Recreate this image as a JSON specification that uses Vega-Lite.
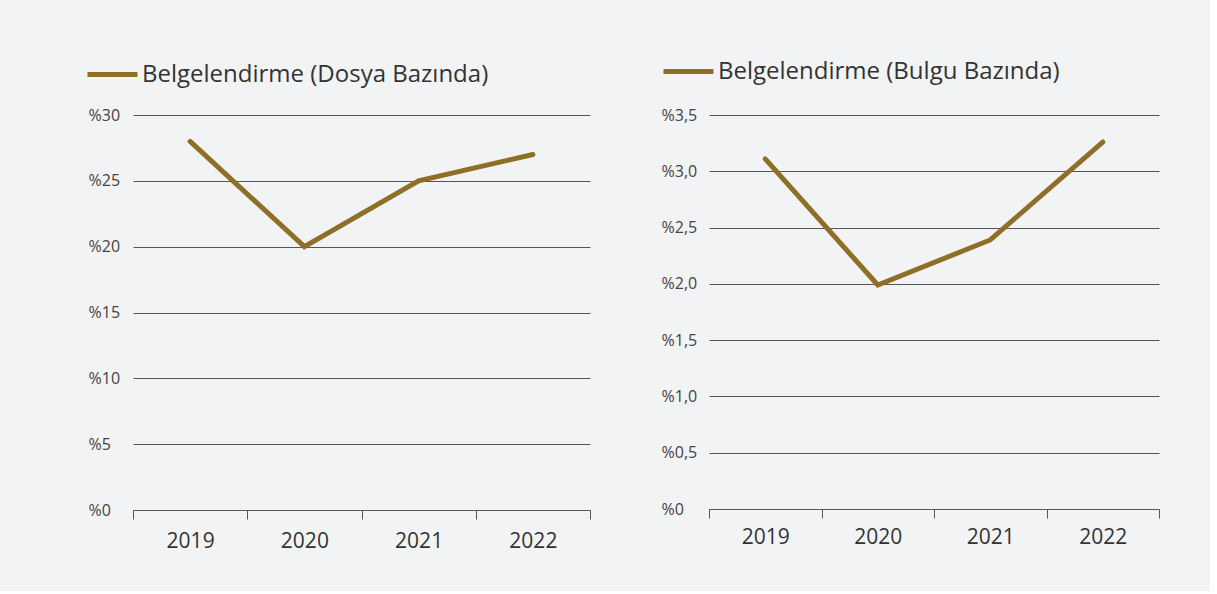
{
  "$schema": "https://vega.github.io/schema/vega-lite/v6.json",
  "background": "#f2f3f5",
  "padding": {"left": 85, "top": 44, "right": 50, "bottom": 40},
  "spacing": 70,
  "datasets": {
    "d": [
      {"panel": "Belgelendirme (Dosya Bazında)", "year": "2019", "value": 28},
      {"panel": "Belgelendirme (Dosya Bazında)", "year": "2020", "value": 20},
      {"panel": "Belgelendirme (Dosya Bazında)", "year": "2021", "value": 25},
      {"panel": "Belgelendirme (Dosya Bazında)", "year": "2022", "value": 27},
      {"panel": "Belgelendirme (Bulgu Bazında)", "year": "2019", "value": 3.11},
      {"panel": "Belgelendirme (Bulgu Bazında)", "year": "2020", "value": 1.99},
      {"panel": "Belgelendirme (Bulgu Bazında)", "year": "2021", "value": 2.39},
      {"panel": "Belgelendirme (Bulgu Bazında)", "year": "2022", "value": 3.26}
    ]
  },
  "config": {
    "font": "Open Sans",
    "view": {"stroke": null},
    "axis": {"labelColor": "#333333", "titleColor": "#333333"},
    "legend": {"labelColor": "#333333"}
  },
  "resolve": {"scale": {"color": "independent"}, "legend": {"color": "independent"}},
  "hconcat": [
    {
      "width": 457,
      "height": 395,
      "data": {"name": "d"},
      "transform": [{"filter": "datum.panel === 'Belgelendirme (Dosya Bazında)'"}],
      "mark": {"type": "line", "strokeWidth": 5, "strokeCap": "round", "strokeJoin": "miter"},
      "encoding": {
        "x": {
          "field": "year", "type": "ordinal",
          "scale": {"paddingInner": 0, "paddingOuter": 0},
          "axis": {"title": null, "labelAngle": 0, "labelFontSize": 21, "labelPadding": 11, "tickBand": "extent", "tickSize": 9, "tickColor": "#555555", "domainColor": "#555555", "grid": false}
        },
        "y": {
          "field": "value", "type": "quantitative",
          "scale": {"domain": [0, 30]},
          "axis": {"title": null, "values": [0, 5, 10, 15, 20, 25, 30], "labelExpr": "'%' + datum.value", "labelFontSize": 16, "labelAlign": "left", "labelPadding": 45, "labelColor": "#444444", "ticks": false, "domain": false, "grid": true, "gridColor": "#555555", "gridWidth": 1}
        },
        "color": {
          "field": "panel", "type": "nominal",
          "scale": {"range": ["#8f6e26"]},
          "legend": {"title": null, "orient": "none", "legendX": -48, "legendY": -68, "symbolType": "stroke", "symbolSize": 2500, "symbolStrokeWidth": 5, "labelFontSize": 24, "labelOffset": 2, "labelLimit": 500}
        }
      }
    },
    {
      "width": 450,
      "height": 394,
      "data": {"name": "d"},
      "transform": [{"filter": "datum.panel === 'Belgelendirme (Bulgu Bazında)'"}],
      "mark": {"type": "line", "strokeWidth": 5, "strokeCap": "round", "strokeJoin": "miter"},
      "encoding": {
        "x": {
          "field": "year", "type": "ordinal",
          "scale": {"paddingInner": 0, "paddingOuter": 0},
          "axis": {"title": null, "labelAngle": 0, "labelFontSize": 21, "labelPadding": 8, "tickBand": "extent", "tickSize": 9, "tickColor": "#555555", "domainColor": "#555555", "grid": false}
        },
        "y": {
          "field": "value", "type": "quantitative",
          "scale": {"domain": [0, 3.5]},
          "axis": {"title": null, "values": [0, 0.5, 1, 1.5, 2, 2.5, 3, 3.5], "labelExpr": "datum.value === 0 ? '%0' : '%' + replace(format(datum.value, '.1f'), '.', ',')", "labelFontSize": 16, "labelAlign": "left", "labelPadding": 48, "labelColor": "#444444", "ticks": false, "domain": false, "grid": true, "gridColor": "#555555", "gridWidth": 1}
        },
        "color": {
          "field": "panel", "type": "nominal",
          "scale": {"range": ["#8f6e26"]},
          "legend": {"title": null, "orient": "none", "legendX": -48, "legendY": -71, "symbolType": "stroke", "symbolSize": 2500, "symbolStrokeWidth": 5, "labelFontSize": 24, "labelOffset": 2, "labelLimit": 500}
        }
      }
    }
  ]
}
